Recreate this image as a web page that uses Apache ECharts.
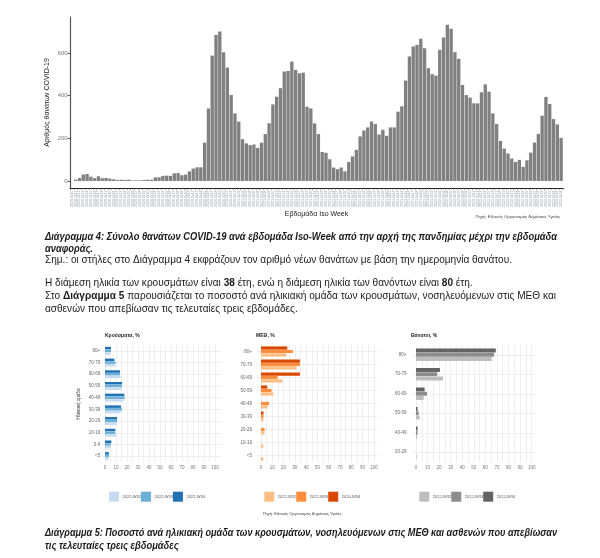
<!DOCTYPE html>
<html><head><meta charset="utf-8">
<script src="https://cdn.jsdelivr.net/npm/echarts@6/dist/echarts.min.js"></script>
<style>html,body{margin:0;padding:0;background:#fff}#c{width:600px;height:558px}</style>
</head><body><div id="c"></div>
<script>
// ---------- DATA ----------
const weekLabels = (function () {
  const a = [];
  for (let w = 10; w <= 53; w++) a.push('2020-W' + String(w).padStart(2, '0'));
  for (let w = 1; w <= 52; w++) a.push('2021-W' + String(w).padStart(2, '0'));
  for (let w = 1; w <= 34; w++) a.push('2022-W' + String(w).padStart(2, '0'));
  return a;
})();
const weeklyDeaths = [0, 6, 14, 30, 33, 20, 13, 22, 13, 14, 11, 8, 5, 6, 5, 6, 3, 3, 3, 5, 6, 6, 17, 17, 24, 25, 24,
  36, 37, 27, 30, 45, 58, 64, 64, 180, 340, 588, 685, 701, 604, 532, 403, 317, 278, 196, 176, 168, 171, 155,
  180, 220, 271, 359, 395, 435, 513, 516, 560, 521, 505, 508, 348, 340, 270, 220, 136, 132, 102, 63, 55, 63,
  45, 89, 115, 146, 209, 237, 251, 279, 267, 218, 240, 212, 251, 251, 325, 350, 471, 584, 631, 638, 667, 623,
  529, 501, 494, 615, 673, 733, 714, 604, 573, 450, 403, 391, 364, 364, 416, 453, 419, 317, 267, 188, 152,
  129, 105, 89, 99, 66, 97, 133, 180, 221, 306, 394, 361, 290, 265, 202];
const deathTicks = [0, 200, 400, 600];

const seriesWeeks = ['2022-W32', '2022-W33', '2022-W34'];
const icuWeeks = ['2022-W32', '2022-W33', '2020-W34'];

const ageCases = ['<5', '5-9', '10-19', '20-29', '30-39', '40-49', '50-59', '60-69', '70-79', '80+'];
const casesW32 = [3.3, 5.2, 10.3, 10.3, 14.0, 17.0, 15.2, 14.2, 9.4, 5.0];
const casesW33 = [3.6, 5.2, 9.4, 11.0, 15.5, 17.9, 15.5, 13.6, 9.7, 5.5];
const casesW34 = [3.6, 5.8, 9.4, 11.0, 14.5, 17.6, 15.5, 13.6, 8.5, 5.5];

const ageICU = ['<5', '10-19', '20-29', '30-39', '40-49', '50-59', '60-69', '70-79', '80+'];
const icuW32 = [2.1, 2.1, 3.2, 2.2, 5.9, 10.9, 18.9, 31.6, 22.7];
const icuW33 = [0, 0, 3.2, 2.2, 7.1, 9.4, 14.7, 34.5, 28.3];
const icuW34 = [0, 0, 0, 2.3, 0, 5.6, 34.5, 34.5, 23.3];

const ageDeaths = ['20-29', '40-49', '50-59', '60-69', '70-79', '80+'];
const deathsW32 = [0.6, 0.9, 3.2, 6.6, 23.3, 65.4];
const deathsW33 = [0, 1.4, 2.3, 9.5, 18.4, 67.5];
const deathsW34 = [0, 1.4, 1.4, 7.5, 20.7, 69.0];

const pctLabels = [0, 10, 20, 30, 40, 50, 60, 70, 80, 90, 100];
const pctGrid = [0, 5, 10, 15, 20, 25, 30, 35, 40, 45, 50, 55, 60, 65, 70, 75, 80, 85, 90, 95, 100];

// ---------- STYLE ----------
const F = "'Liberation Sans', Arial, sans-serif";
const blues = ['#c6dbef', '#6baed6', '#2171b5'];
const oranges = ['#fdbe85', '#fd8d3c', '#d94701'];
const grays = ['#bdbdbd', '#8c8c8c', '#636363'];

const chart = echarts.init(document.getElementById('c'), null, {renderer: 'canvas'});

// text fitting helper
const cv = document.createElement('canvas').getContext('2d');
function measure(segs, size, style, weight) {
  let w = 0;
  segs.forEach(s => {
    cv.font = (style || 'normal') + ' ' + (s.b ? 'bold' : (weight || 'normal')) + ' ' + size + 'px ' + F;
    w += cv.measureText(s.t).width;
  });
  return w;
}
function parseRich(t) {
  const out = []; const re = /\{b\|([^}]*)\}/g; let last = 0, m;
  while ((m = re.exec(t))) { if (m.index > last) out.push({t: t.slice(last, m.index)}); out.push({t: m[1], b: true}); last = re.lastIndex; }
  if (last < t.length) out.push({t: t.slice(last)});
  return out;
}
const FS = 11;
const capLine1 = 'Διάγραμμα 4: Σύνολο θανάτων COVID-19 ανά εβδομάδα Iso-Week από την αρχή της πανδημίας μέχρι την εβδομάδα';
const bodyRef = 'Σημ.: οι στήλες στο Διάγραμμα 4 εκφράζουν τον αριθμό νέων θανάτων με βάση την ημερομηνία θανάτου.';
const capScale = 512 / measure([{t: capLine1}], FS, 'italic', 'bold');
const bodyScale = 467 / measure([{t: bodyRef}], FS, 'normal', 'normal');
const lines = [
  {t: capLine1, y: 237, cap: true},
  {t: 'αναφοράς.', y: 249, cap: true},
  {t: bodyRef, y: 260},
  {t: 'Η διάμεση ηλικία των κρουσμάτων είναι {b|38} έτη, ενώ η διάμεση ηλικία των θανόντων είναι {b|80} έτη.', y: 283},
  {t: 'Στο {b|Διάγραμμα 5} παρουσιάζεται το ποσοστό ανά ηλικιακή ομάδα των κρουσμάτων, νοσηλευόμενων στις ΜΕΘ και', y: 296, w: 511},
  {t: 'ασθενών που απεβίωσαν τις τελευταίες τρεις εβδομάδες.', y: 309},
  {t: 'Διάγραμμα 5: Ποσοστό ανά ηλικιακή ομάδα των κρουσμάτων, νοσηλευόμενων στις ΜΕΘ και ασθενών που απεβίωσαν', y: 533, cap: true, w: 512},
  {t: 'τις τελευταίες τρεις εβδομάδες', y: 546, cap: true}
];
const graphics = lines.map(l => {
  let sc = l.cap ? capScale : bodyScale;
  if (l.w) sc = l.w / measure(parseRich(l.t), FS, l.cap ? 'italic' : 'normal', l.cap ? 'bold' : 'normal');
  return {
    type: 'text', x: 45, y: l.y, scaleX: sc, silent: true,
    style: {
      text: l.t, x: 0, y: 0, fontSize: FS, fontFamily: F,
      fontStyle: l.cap ? 'italic' : 'normal', fontWeight: l.cap ? 'bold' : 'normal',
      fill: '#1a1a1a', verticalAlign: 'middle', align: 'left',
      rich: {b: {fontSize: FS, fontFamily: F, fontWeight: 'bold', fill: '#1a1a1a'}}
    }
  };
});
function smallText(t, x, y, size, opts) {
  return Object.assign({type: 'text', x: x, y: y, silent: true,
    style: Object.assign({text: t, fontSize: size, fontFamily: F, fill: '#333', verticalAlign: 'middle', align: 'left'}, opts || {})});
}
graphics.push(smallText('Πηγή: Εθνικός Οργανισμός Δημόσιας Υγείας', 560, 217, 4.3, {align: 'right', fill: '#444'}));
graphics.push(smallText('Κρούσματα, %', 105, 336, 5, {fontWeight: 'bold', fill: '#222'}));
graphics.push(smallText('ΜΕΘ, %', 256, 336, 5, {fontWeight: 'bold', fill: '#222'}));
graphics.push(smallText('Θάνατοι, %', 410.7, 336, 5, {fontWeight: 'bold', fill: '#222'}));
graphics.push(Object.assign(smallText('Ηλικιακή ομάδα', 0, 0, 4.5, {align: 'center', fill: '#444'}), {x: 79, y: 404, rotation: Math.PI / 2}));
graphics.push(smallText('Πηγή: Εθνικός Οργανισμός Δημόσιας Υγείας', 302, 514, 4, {align: 'center', fill: '#444'}));

// ---------- SMALL CHART HELPERS ----------
const smallGrids = [
  {left: 102.25, top: 345, width: 119.35, height: 117},
  {left: 257, top: 345, width: 120.3, height: 117},
  {left: 412.5, top: 345, width: 122.6, height: 117}
];
const smallRanges = [[-2.5, 106], [-3.5, 103], [-3, 103]];
const smallCats = [ageCases, ageICU, ageDeaths];
const labelMargins = [2, 5, 6];
const gapPct = ['32%', '22%', '36%'];
const smallData = [
  [casesW32, casesW33, casesW34],
  [icuW32, icuW33, icuW34],
  [deathsW32, deathsW33, deathsW34]
];
const smallColors = [blues, oranges, grays];
const smallWeekNames = [seriesWeeks, icuWeeks, seriesWeeks];
const prefixes = ['K', 'M', 'D'];
const legendLeft = [109, 264.3, 419.3];

const grids = [{left: 70, right: 37, top: 17, bottom: 370}].concat(smallGrids);
const xAxes = [{
  type: 'category', gridIndex: 0, data: weekLabels,
  name: 'Εβδομάδα Iso Week', nameLocation: 'middle', nameGap: 20,
  nameTextStyle: {fontSize: 7, fontFamily: F, color: '#222'},
  axisLine: {show: true, onZero: false, lineStyle: {color: '#222', width: 1.2}},
  axisTick: {show: true, length: 2, interval: 0, lineStyle: {color: '#555', width: 0.5}},
  axisLabel: {interval: 0, rotate: 90, fontSize: 3.6, fontFamily: F, color: '#8f95a3', margin: 2.5}
}];
const yAxes = [{
  type: 'value', gridIndex: 0, min: -33, max: 769,
  name: 'Αριθμός θανάτων COVID-19', nameLocation: 'middle', nameGap: 19, nameRotate: 90,
  nameMoveOverlap: false,
  nameTextStyle: {fontSize: 7, fontFamily: F, color: '#222'},
  axisLine: {show: true, lineStyle: {color: '#555', width: 1.2}},
  axisTick: {show: true, length: 2.5, customValues: deathTicks, lineStyle: {color: '#555'}},
  axisLabel: {customValues: deathTicks, fontSize: 5.8, fontFamily: F, color: '#777', margin: 2.5},
  splitLine: {show: false}
}];
const series = [{
  type: 'bar', xAxisIndex: 0, yAxisIndex: 0, data: weeklyDeaths,
  barCategoryGap: '12%', itemStyle: {color: '#808080'}, silent: true
}];
const legends = [];
for (let k = 0; k < 3; k++) {
  const gi = k + 1;
  xAxes.push({
    type: 'value', gridIndex: gi, min: smallRanges[k][0], max: smallRanges[k][1],
    axisLine: {show: false},
    axisTick: {show: false, customValues: pctGrid},
    axisLabel: {customValues: pctLabels, fontSize: 4.5, fontFamily: F, color: '#777', margin: 3},
    splitLine: {show: true, lineStyle: {color: '#ebebeb', width: 0.8}}
  });
  yAxes.push({
    type: 'category', gridIndex: gi, data: smallCats[k],
    axisLine: {show: false}, axisTick: {show: false},
    axisLabel: {interval: 0, fontSize: 4.5, fontFamily: F, color: '#666', margin: labelMargins[k]},
    splitLine: {show: false}
  });
  series.push({
    type: 'line', xAxisIndex: gi, yAxisIndex: gi, data: [], silent: true,
    markLine: {
      silent: true, symbol: ['none', 'none'], z: 1, animation: false,
      label: {show: false}, emphasis: {disabled: true},
      lineStyle: {color: '#ebebeb', width: 0.8, type: 'solid'},
      data: smallCats[k].map(c => ({yAxis: c}))
    }
  });
  const names = [];
  for (let s = 0; s < 3; s++) names.push(prefixes[k] + '|' + smallWeekNames[k][s]);
  // latest week drawn first so it sits on top of each group
  for (let s = 2; s >= 0; s--) {
    series.push({
      type: 'bar', name: names[s], xAxisIndex: gi, yAxisIndex: gi, data: smallData[k][s], z: 3,
      barCategoryGap: gapPct[k], barGap: '8%', itemStyle: {color: smallColors[k][s]}, silent: true
    });
  }
  legends.push({
    data: names, left: legendLeft[k], top: 491.7, padding: 0, itemGap: 0,
    itemWidth: 10, itemHeight: 10, icon: 'rect', selectedMode: false,
    formatter: n => n.split('|')[1],
    textStyle: {fontSize: 4, fontFamily: F, color: '#555', width: 22, padding: [0, 0, 0, -1.5]}
  });
}

chart.setOption({
  animation: false,
  backgroundColor: '#fff',
  grid: grids,
  xAxis: xAxes,
  yAxis: yAxes,
  legend: legends,
  series: series,
  graphic: graphics
});
</script></body></html>
